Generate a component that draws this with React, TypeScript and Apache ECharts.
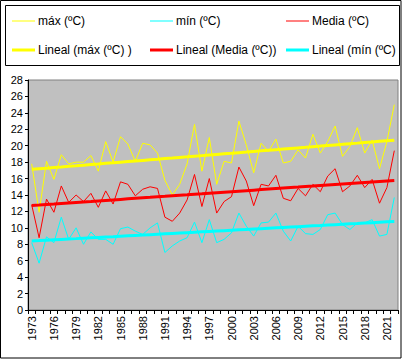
import React, { useEffect, useRef } from "react";
import * as echarts from "echarts";

const years: string[] = [];
for (let y = 1973; y <= 2022; y++) years.push(String(y));

const maxValues = [
  17.8, 11.9, 18.1, 15.9, 18.9, 17.8, 18.0, 18.0, 18.8, 16.9,
  20.5, 18.0, 21.1, 20.2, 18.1, 20.3, 20.1, 19.1, 15.8, 14.0,
  15.3, 17.8, 22.6, 16.9, 21.0, 15.3, 18.1, 17.9, 23.0, 20.1,
  16.7, 20.3, 19.3, 20.8, 17.9, 18.1, 19.5, 18.5, 21.4, 19.1,
  20.5, 22.4, 18.7, 19.9, 22.2, 19.1, 20.7, 17.2, 20.5, 25.0,
];

const minValues = [
  8.2, 5.7, 8.9, 8.2, 11.3, 8.6, 10.0, 8.0, 9.5, 8.6,
  8.6, 8.0, 9.9, 10.1, 9.6, 9.2, 10.0, 10.6, 7.0, 7.8,
  8.4, 8.8, 10.7, 8.2, 11.0, 8.2, 8.6, 9.4, 11.8, 10.2,
  9.0, 10.6, 10.7, 11.8, 9.6, 8.4, 10.2, 9.3, 9.2, 9.8,
  11.6, 11.8, 10.4, 9.8, 10.6, 10.6, 11.0, 9.0, 9.2, 13.7,
];

const mediaValues = [
  12.8, 8.8, 13.5, 11.9, 15.1, 13.1, 14.0, 13.2, 14.2, 12.5,
  14.5, 12.9, 15.6, 15.3, 13.9, 14.7, 15.0, 14.8, 11.3, 10.8,
  11.8, 13.4, 16.5, 12.6, 16.0, 11.8, 13.2, 13.8, 17.4, 15.7,
  12.7, 15.3, 15.1, 16.4, 13.6, 13.3, 14.8, 13.9, 15.3, 14.4,
  16.3, 17.2, 14.4, 15.1, 16.4, 14.9, 15.9, 13.0, 14.9, 19.4,
];

const yTicks = { min: 0, max: 28, interval: 2 };

const names = {
  max: "máx (ºC)",
  min: "mín (ºC)",
  media: "Media (ºC)",
  lmax: "Lineal (máx (ºC) )",
  lmedia: "Lineal (Media (ºC))",
  lmin: "Lineal (mín (ºC)",
};

// Linear least-squares trendline (like the spreadsheet's "Lineal" trendline)
function trend(vals: number[]): number[] {
  const n = vals.length;
  let sx = 0, sy = 0, sxx = 0, sxy = 0;
  vals.forEach((v, i) => {
    const x = i + 1;
    sx += x; sy += v; sxx += x * x; sxy += x * v;
  });
  const b = (n * sxy - sx * sy) / (n * sxx - sx * sx);
  const a = (sy - b * sx) / n;
  return vals.map((_, i) => +(a + b * (i + 1)).toFixed(3));
}

const YELLOW = "#FFFF00";
const CYAN = "#00FFFF";
const RED = "#FF0000";
const FONT = "'Liberation Sans', Arial, sans-serif";

export default function App() {
  const ref = useRef<HTMLDivElement>(null);
  useEffect(() => {
    if (!ref.current) return;
    const chart = echarts.init(ref.current, null, { renderer: "svg" });

    const legendItem = (name: string, left: number, top: number, thick: boolean) => ({
      data: [name],
      left,
      top,
      padding: 0,
      orient: "horizontal",
      icon: "rect",
      itemWidth: 23,
      itemHeight: thick ? 3 : 1,
      selectedMode: false,
      textStyle: { fontSize: 12, fontFamily: FONT, color: "#000", padding: [0, 0, 0, -2] },
    });

    const line = (name: string, data: number[], color: string, width: number) => ({
      name,
      type: "line",
      data,
      color,
      symbol: "none",
      lineStyle: { color, width },
      itemStyle: { color },
    });

    chart.setOption({
      animation: false,
      backgroundColor: "#fff",
      textStyle: { fontFamily: FONT },
      grid: {
        left: 28,
        top: 80,
        right: 4,
        bottom: 49,
        show: true,
        backgroundColor: "#C0C0C0",
        borderColor: "#808080",
        borderWidth: 1,
      },
      legend: [
        legendItem(names.max, 12, 15, false),
        legendItem(names.min, 150, 15, false),
        legendItem(names.media, 286, 15, false),
        legendItem(names.lmax, 12, 44, true),
        legendItem(names.lmedia, 150, 44, true),
        legendItem(names.lmin, 286, 44, true),
      ],
      xAxis: {
        type: "category",
        data: years,
        boundaryGap: true,
        axisLine: { lineStyle: { color: "#000", width: 1 } },
        axisTick: { show: true, interval: 0, length: 4, lineStyle: { color: "#000" } },
        axisLabel: {
          interval: 2,
          rotate: 90,
          fontSize: 11,
          fontFamily: FONT,
          color: "#000",
          margin: 6,
        },
        splitLine: { show: false },
      },
      yAxis: {
        type: "value",
        min: yTicks.min,
        max: yTicks.max,
        interval: yTicks.interval,
        axisLine: { show: true, lineStyle: { color: "#000", width: 1 } },
        axisTick: { show: true, length: 3, lineStyle: { color: "#000" } },
        axisLabel: { fontSize: 11, fontFamily: FONT, color: "#000", margin: 5 },
        splitLine: { show: false },
      },
      graphic: [
        {
          type: "rect",
          shape: { x: 0.5, y: 0.5, width: 400.5, height: 357.5 },
          style: { fill: "none", stroke: "#000", lineWidth: 1 },
          silent: true,
          z: 100,
        },
        {
          type: "rect",
          shape: { x: 5.5, y: 5.5, width: 394, height: 60 },
          style: { fill: "none", stroke: "#000", lineWidth: 1 },
          silent: true,
          z: 100,
        },
      ],
      series: [
        line(names.max, maxValues, YELLOW, 1),
        line(names.min, minValues, CYAN, 1),
        line(names.media, mediaValues, RED, 1),
        line(names.lmax, trend(maxValues), YELLOW, 3),
        line(names.lmedia, trend(mediaValues), RED, 3),
        line(names.lmin, trend(minValues), CYAN, 3),
      ],
    });
    return () => chart.dispose();
  }, []);
  return (
    <div
      ref={ref}
      style={{ position: "fixed", left: 0, top: 0, width: 402, height: 359 }}
    />
  );
}
